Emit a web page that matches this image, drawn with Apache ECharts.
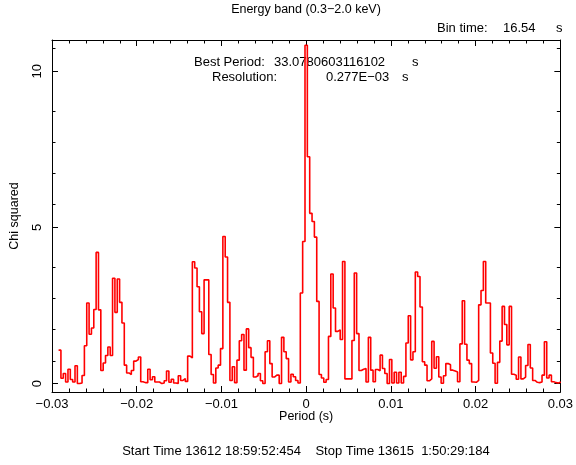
<!DOCTYPE html>
<html><head><meta charset="utf-8">
<script src="https://cdn.jsdelivr.net/npm/echarts@6/dist/echarts.min.js"></script>
<style>html,body{margin:0;padding:0;background:#fff}#chart{width:576px;height:465px}</style>
</head><body><div id="chart"></div>
<script>
// Trial period offsets: bin index * resolution (s), relative to the best period
const periodResolution = 0.277e-3;
const firstBinIndex = -105;
// Chi squared per trial period, bins k = -105 ... 108
const chiSquared = [
  // k = -105 .. -71
  1.07, 0.17, 0.32, 0.05, 0.46, 0.13, 0.05, 0.57, 0.0, 0.02, 0.26, 1.21, 2.58, 1.58, 1.78, 2.37, 4.2, 2.36, 0.42, 0.66,
  0.9, 1.17, 0.9, 3.37, 2.28, 3.35, 2.6, 1.94, 0.59, 0.34, 0.29, 0.42, 0.72, 0.77, 0.85,
  // k = -70 .. -38
  0.06, 0.03, 0.03, 0.46, 0.12, 0.22, 0.05, 0.05, 0.0, 0.02, 0.09, 0.4, 0.04, 0.14, 0.02, 0.0, 0.25, 0.1, 0.16, 0.07,
  0.88, 0.82, 3.9, 3.7, 3.1, 2.3, 1.6, 3.32, 3.32, 0.93, 0.29, 0.02, 0.5,
  // k = -37 .. -1
  0.59, 1.12, 4.71, 4.05, 2.6, 0.1, 0.54, 0.03, 0.75, 1.37, 1.57, 0.43, 1.75, 1.15, 0.84, 0.21, 0.25, 0.32, 0.09, 0.0,
  1.02, 1.37, 0.64, 0.21, 0.27, 0.27, 0.0, 1.48, 1.02, 0.8, 0.05, 0.3, 0.22, 0.1, 0.02, 2.9, 4.55,
  // k = 0 .. 20
  10.83, 7.26, 5.45, 5.19, 4.69, 2.63, 0.29, 0.18, 0.04, 0.13, 1.51, 3.51, 2.42, 1.67, 1.72, 1.41, 3.91, 0.15, 0.15, 0.15, 1.38,
  // k = 21 .. 50
  3.54, 1.6, 0.42, 0.46, 0.48, 0.05, 1.48, 0.43, 0.06, 0.45, 0.41, 0.91, 0.48, 0.32, 0.0, 0.77, 0.02, 0.36, 0.02, 0.36,
  0.02, 0.23, 1.3, 2.17, 0.76, 1.02, 3.57, 3.43, 2.45, 0.7,
  // k = 51 .. 108
  0.59, 0.09, 0.15, 1.35, 0.49, 0.86, 0.21, 0.01, 0.25, 0.64, 0.6, 0.43, 0.4, 0.37, 0.06, 1.27, 2.65, 1.26, 0.75, 0.64,
  0.05, 0.04, 0.1, 2.52, 2.98, 3.91, 2.58, 2.58, 0.98, 0.65, 0.01, 0.68, 1.36, 2.47, 1.89, 1.24, 2.47, 0.3, 0.27, 0.14,
  0.85, 0.15, 0.21, 0.58, 1.25, 0.5, 0.1, 0.04, 0.03, 0.05, 0.27, 1.34, 0.18, 0.27, 0.06, 0.03, 0.02, 0.05
];
const xRange = [-0.03, 0.03];
const xTickStep = 0.01;
const yRange = [-0.27, 11.0];
const yTickValues = [0, 5, 10];

const titleText = 'Energy band (0.3\u22122.0 keV)';
const binTimeParts = ['Bin time:', '16.54', 's'];
const bestPeriodParts = ['Best Period:', '33.0780603116102', 's'];
const resolutionParts = ['Resolution:', '0.277E\u221203', 's'];
const footerText = 'Start Time 13612 18:59:52:454    Stop Time 13615  1:50:29:184';

// histogram step data: left edges with values, plus closing right edge
const stepData = chiSquared.map((v, i) => [(firstBinIndex + i - 0.5) * periodResolution, v]);
stepData.push([(firstBinIndex + chiSquared.length - 0.5) * periodResolution, chiSquared[chiSquared.length - 1]]);

const FONT = '"Liberation Sans", Arial, Helvetica, sans-serif';
function fmtX(v) {
  if (Math.abs(v) < 1e-9) return '0';
  const s = Math.abs(v).toFixed(2);
  return v < 0 ? '\u2212' + s : s;
}
const tickCommon = {
  axisLine: { show: true, onZero: false, lineStyle: { color: '#000', width: 1 } },
  axisTick: { show: true, inside: true, length: 6, lineStyle: { color: '#000', width: 1 } },
  minorTick: { show: true, splitNumber: 5, length: 3.5, lineStyle: { color: '#000', width: 1 } },
  splitLine: { show: false }
};
function txt(x, y, text, align, size) {
  return { type: 'text', x: x, y: y, silent: true,
    style: { text: text, font: (size || 13) + 'px ' + FONT, fill: '#000', align: align || 'left', verticalAlign: 'middle' } };
}

const chart = echarts.init(document.getElementById('chart'), null, { renderer: 'canvas' });
chart.setOption({
  animation: false,
  backgroundColor: '#fff',
  grid: { left: 52, right: 13, top: 40, bottom: 73, show: false },
  xAxis: [
    Object.assign({ type: 'value', min: xRange[0], max: xRange[1], interval: xTickStep, position: 'bottom',
      name: 'Period (s)', nameLocation: 'middle', nameGap: 18, nameMoveOverlap: false,
      nameTextStyle: { fontFamily: FONT, fontSize: 12.5, color: '#000' },
      axisLabel: { show: true, margin: 6, fontFamily: FONT, fontSize: 13, color: '#000', formatter: fmtX } }, tickCommon),
    Object.assign({ type: 'value', min: xRange[0], max: xRange[1], interval: xTickStep, position: 'top',
      axisLabel: { show: false } }, tickCommon)
  ],
  yAxis: [
    Object.assign({ type: 'value', min: yRange[0], max: yRange[1], interval: 5, position: 'left',
      name: 'Chi squared', nameLocation: 'middle', nameGap: 31, nameRotate: 90, nameMoveOverlap: false,
      nameTextStyle: { fontFamily: FONT, fontSize: 12.5, color: '#000' },
      axisLabel: { show: true, rotate: 90, margin: 8, fontFamily: FONT, fontSize: 13, color: '#000',
        customValues: yTickValues, formatter: v => String(v) },
      axisTick: { show: true, inside: true, length: 6, customValues: yTickValues, lineStyle: { color: '#000', width: 1 } } },
      { axisLine: tickCommon.axisLine, minorTick: tickCommon.minorTick, splitLine: tickCommon.splitLine }),
    Object.assign({ type: 'value', min: yRange[0], max: yRange[1], interval: 5, position: 'right',
      axisLabel: { show: false },
      axisTick: { show: true, inside: true, length: 6, customValues: yTickValues, lineStyle: { color: '#000', width: 1 } } },
      { axisLine: tickCommon.axisLine, minorTick: tickCommon.minorTick, splitLine: tickCommon.splitLine })
  ],
  series: [{
    type: 'line', xAxisIndex: 0, yAxisIndex: 0, step: 'end', symbol: 'none',
    lineStyle: { color: '#ff0000', width: 1.6 }, data: stepData, clip: true
  }],
  graphic: [
    txt(306, 10, titleText, 'center', 12.5),
    txt(437, 28, binTimeParts[0]), txt(503, 28, binTimeParts[1]), txt(556, 28, binTimeParts[2]),
    txt(194, 62, bestPeriodParts[0]), txt(274, 62, bestPeriodParts[1]), txt(412, 62, bestPeriodParts[2]),
    txt(212, 77, resolutionParts[0]), txt(326, 77, resolutionParts[1]), txt(402, 77, resolutionParts[2]),
    txt(306, 451, footerText, 'center')
  ]
});
</script></body></html>
